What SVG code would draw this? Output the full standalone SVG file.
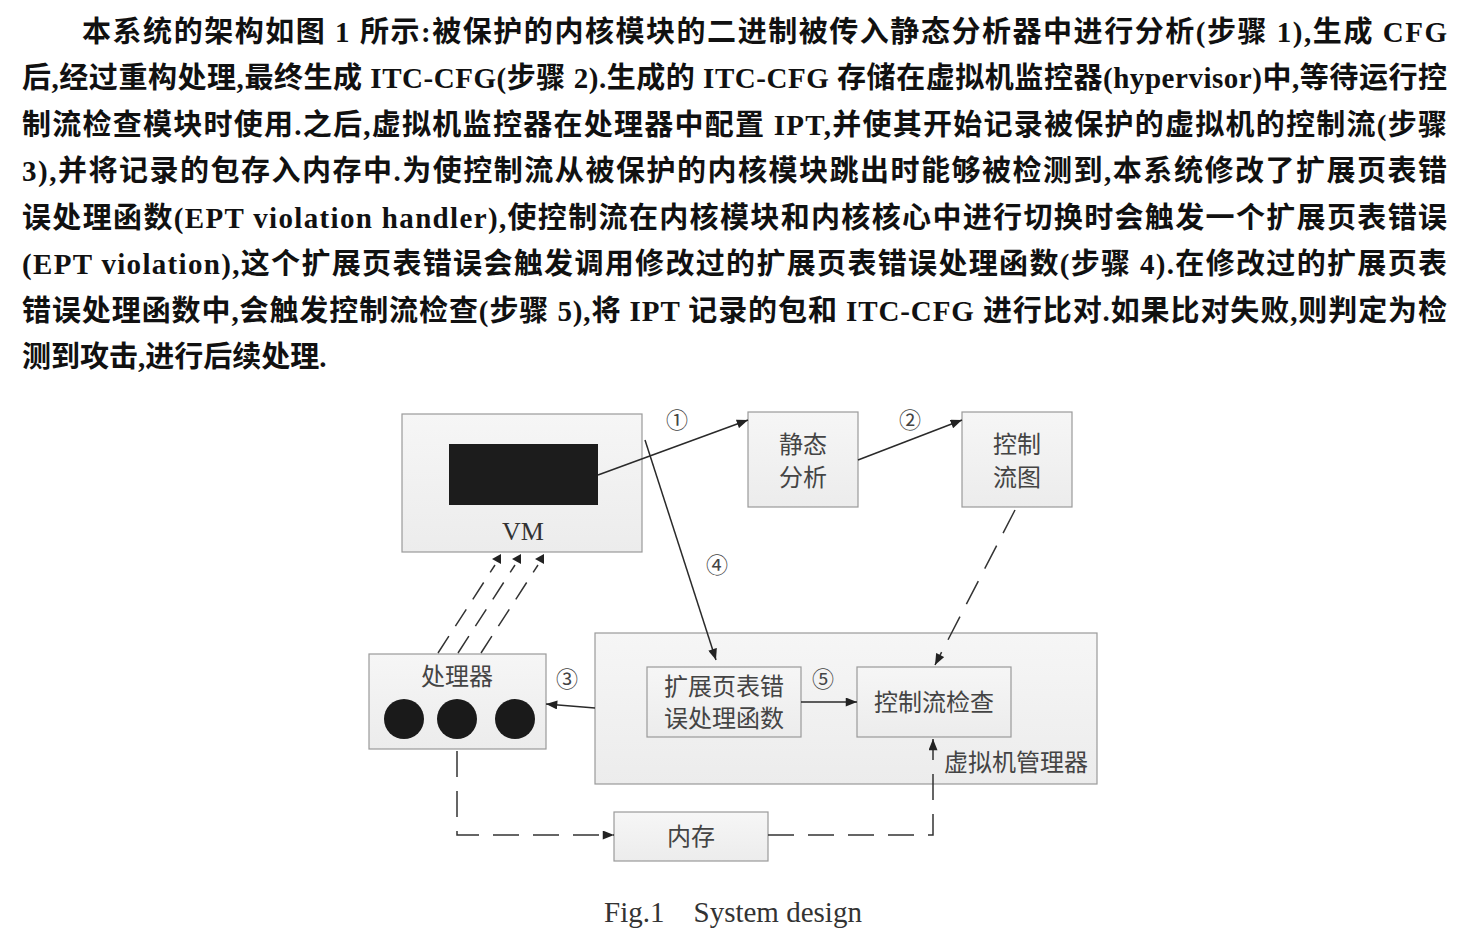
<svg xmlns="http://www.w3.org/2000/svg" width="1469" height="941" viewBox="0 0 1469 941">
<style>
.para{font-family:"Liberation Serif","Noto Sans CJK SC",serif;font-size:29px;font-weight:bold;fill:#111}
.box{fill:url(#g);stroke:#9a9a9a;stroke-width:1.2}
.lbl{font-family:"Noto Sans CJK SC",sans-serif;font-size:24px;fill:#444;text-anchor:middle}
.num{font-family:"Noto Sans CJK SC","DejaVu Sans",sans-serif;font-size:22px;fill:#444;text-anchor:middle}
.ln{fill:none;stroke:#2a2a2a;stroke-width:1.5}
.dl{fill:none;stroke:#333;stroke-width:1.5;stroke-dasharray:26 14}
.dd{fill:none;stroke:#333;stroke-width:1.5;stroke-dasharray:20 12}
</style>
<defs>
<linearGradient id="g" x1="0" y1="0" x2="0" y2="1"><stop offset="0" stop-color="#f6f6f6"/><stop offset="1" stop-color="#ececec"/></linearGradient>
<marker id="ah" viewBox="0 0 10 8" refX="10" refY="4" markerWidth="12" markerHeight="9" orient="auto" markerUnits="userSpaceOnUse"><path d="M0,0 L10,4 L0,8 z" fill="#222"/></marker>
</defs>
<rect width="1469" height="941" fill="#fff"/>
<g id="paragraph">
<text class="para" x="82" y="42" textLength="1365" lengthAdjust="spacing">本系统的架构如图 1 所示:被保护的内核模块的二进制被传入静态分析器中进行分析(步骤 1),生成 CFG</text>
<text class="para" x="22" y="88" textLength="1425" lengthAdjust="spacing">后,经过重构处理,最终生成 ITC-CFG(步骤 2).生成的 ITC-CFG 存储在虚拟机监控器(hypervisor)中,等待运行控</text>
<text class="para" x="22" y="135" textLength="1425" lengthAdjust="spacing">制流检查模块时使用.之后,虚拟机监控器在处理器中配置 IPT,并使其开始记录被保护的虚拟机的控制流(步骤</text>
<text class="para" x="22" y="181" textLength="1425" lengthAdjust="spacing">3),并将记录的包存入内存中.为使控制流从被保护的内核模块跳出时能够被检测到,本系统修改了扩展页表错</text>
<text class="para" x="22" y="228" textLength="1425" lengthAdjust="spacing">误处理函数(EPT violation handler),使控制流在内核模块和内核核心中进行切换时会触发一个扩展页表错误</text>
<text class="para" x="22" y="274" textLength="1425" lengthAdjust="spacing">(EPT violation),这个扩展页表错误会触发调用修改过的扩展页表错误处理函数(步骤 4).在修改过的扩展页表</text>
<text class="para" x="22" y="321" textLength="1425" lengthAdjust="spacing">错误处理函数中,会触发控制流检查(步骤 5),将 IPT 记录的包和 ITC-CFG 进行比对.如果比对失败,则判定为检</text>
<text class="para" x="22" y="367">测到攻击,进行后续处理.</text>
</g>
<g id="hypervisor">
<rect class="box" x="595" y="633" width="502" height="151"/>
<text class="lbl" x="1016" y="771">虚拟机管理器</text>
</g>
<g id="vm">
<rect class="box" x="402" y="414" width="240" height="138"/>
<rect x="449" y="444" width="149" height="61" fill="#1c1c1c"/>
<text x="523" y="540" font-family="Liberation Serif,serif" font-size="26" fill="#333" text-anchor="middle">VM</text>
</g>
<g id="static-analysis">
<rect class="box" x="748" y="412" width="110" height="95"/>
<text class="lbl" x="803" y="453">静态<tspan x="803" dy="33">分析</tspan></text>
</g>
<g id="cfg">
<rect class="box" x="962" y="412" width="110" height="95"/>
<text class="lbl" x="1017" y="453">控制<tspan x="1017" dy="33">流图</tspan></text>
</g>
<g id="ept-handler">
<rect class="box" x="647" y="667" width="154" height="70"/>
<text class="lbl" x="724" y="695" font-size="22">扩展页表错</text>
<text class="lbl" x="724" y="727" font-size="22">误处理函数</text>
</g>
<g id="cf-check">
<rect class="box" x="857" y="667" width="154" height="70"/>
<text class="lbl" x="934" y="711">控制流检查</text>
</g>
<g id="processor">
<rect class="box" x="369" y="654" width="177" height="95"/>
<text class="lbl" x="457" y="685">处理器</text>
<circle cx="404" cy="719" r="20" fill="#1a1a1a"/>
<circle cx="457" cy="719" r="20" fill="#1a1a1a"/>
<circle cx="515" cy="719" r="20" fill="#1a1a1a"/>
</g>
<g id="memory">
<rect class="box" x="614" y="812" width="154" height="49"/>
<text class="lbl" x="691" y="845">内存</text>
</g>
<g id="connectors">
<path class="ln" d="M598,475 L748,420" marker-end="url(#ah)"/>
<text class="num" x="677" y="428">①</text>
<path class="ln" d="M858,460 L962,420" marker-end="url(#ah)"/>
<text class="num" x="910" y="428">②</text>
<path class="ln" d="M645,440 L716,660" marker-end="url(#ah)"/>
<text class="num" x="717" y="573">④</text>
<path class="ln" d="M595,708 L546,704" marker-end="url(#ah)"/>
<text class="num" x="567" y="687">③</text>
<path class="ln" d="M801,702 L857,702" marker-end="url(#ah)"/>
<text class="num" x="823" y="687">⑤</text>
<path class="dl" d="M1015,510 L935,665" marker-end="url(#ah)"/>
<path class="dl" d="M457,751 L457,835 L614,835" marker-end="url(#ah)"/>
<path class="dl" d="M768,835 L933,835 L933,739" marker-end="url(#ah)"/>
<path class="dd" d="M438,653 L495,565"/>
<path class="dd" d="M458,653 L515,565"/>
<path class="dd" d="M481,653 L538,565"/>
<polygon points="492,559 501,554 501,564" fill="#222"/>
<polygon points="512,559 521,554 521,564" fill="#222"/>
<polygon points="535,559 544,554 544,564" fill="#222"/>
</g>
<text x="733" y="922" font-family="Liberation Serif,serif" font-size="29" fill="#333" text-anchor="middle" xml:space="preserve">Fig.1    System design</text>
</svg>
